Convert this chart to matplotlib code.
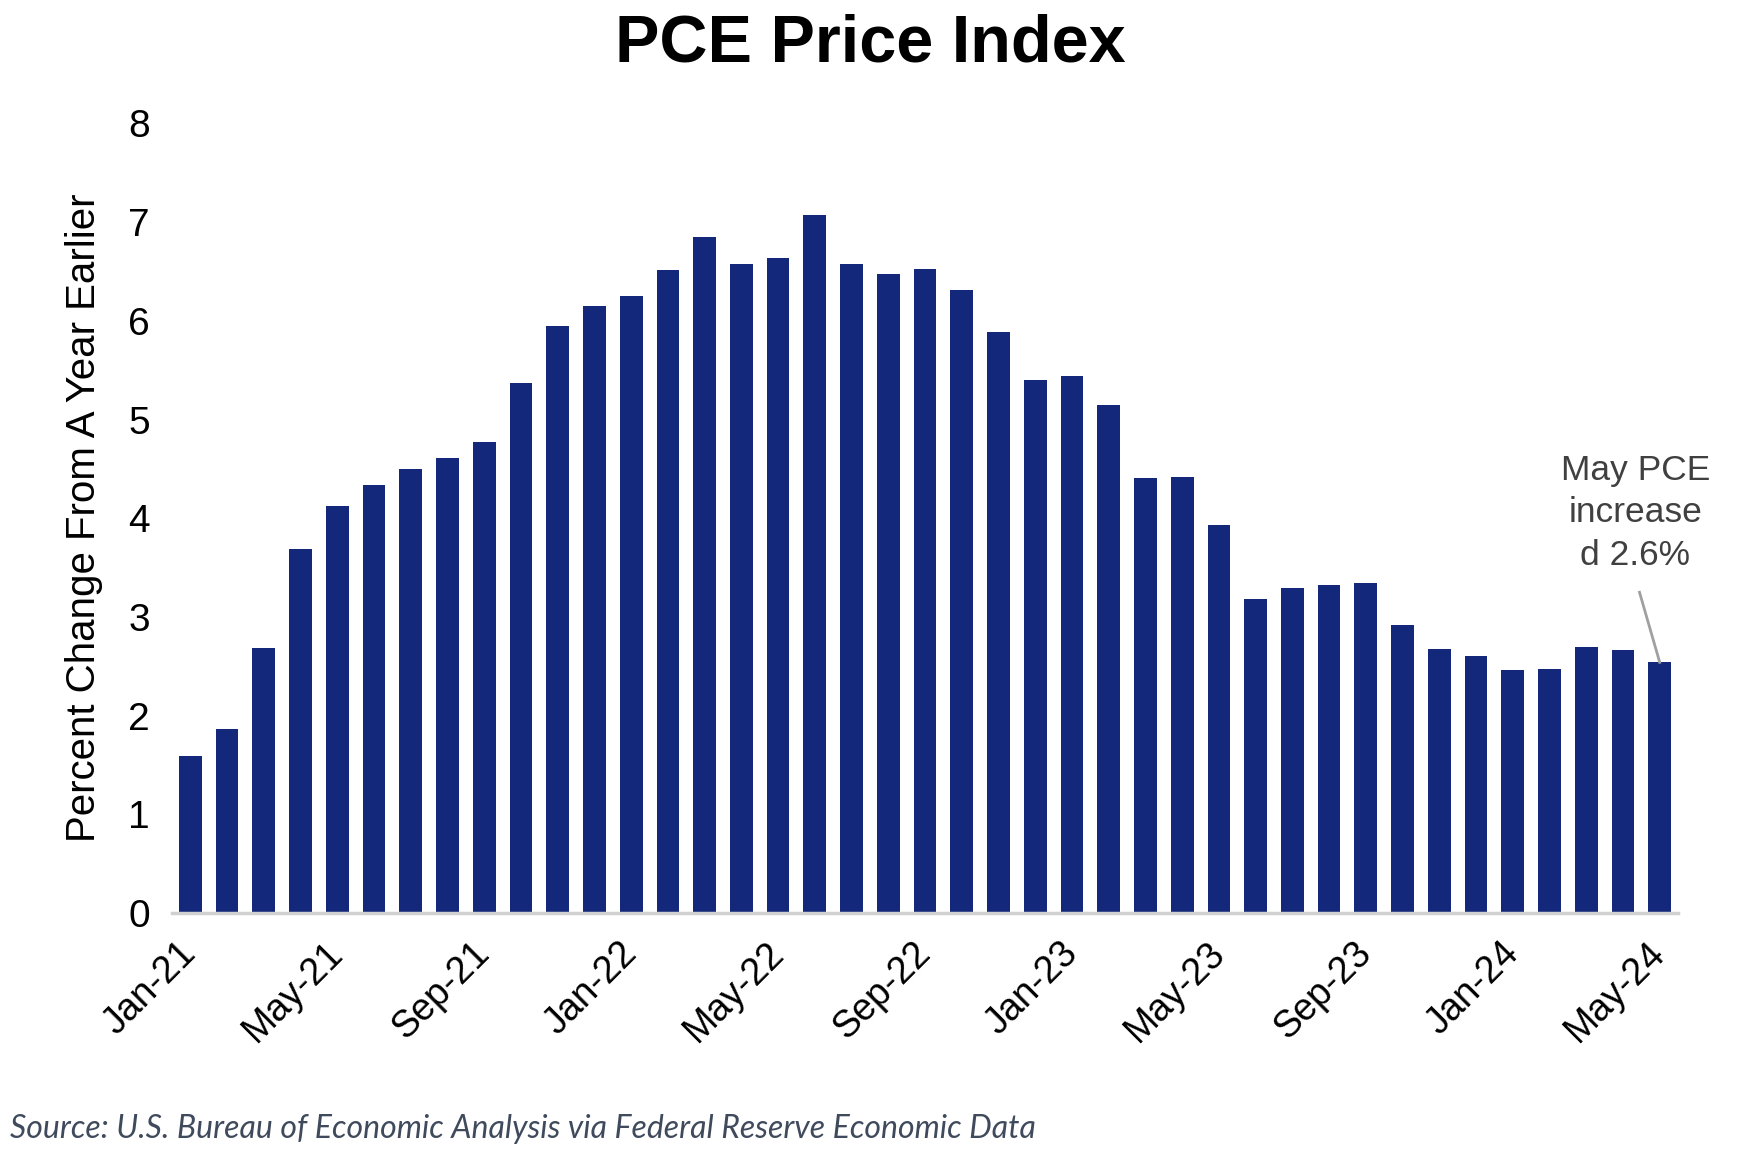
import matplotlib
matplotlib.use("Agg")
import matplotlib.pyplot as plt
import matplotlib.transforms as mtransforms
import numpy as np

plt.rcParams['font.family'] = ['Liberation Sans', 'DejaVu Sans']

months = ["Jan-21", "Feb-21", "Mar-21", "Apr-21", "May-21", "Jun-21", "Jul-21", "Aug-21",
          "Sep-21", "Oct-21", "Nov-21", "Dec-21", "Jan-22", "Feb-22", "Mar-22", "Apr-22",
          "May-22", "Jun-22", "Jul-22", "Aug-22", "Sep-22", "Oct-22", "Nov-22", "Dec-22",
          "Jan-23", "Feb-23", "Mar-23", "Apr-23", "May-23", "Jun-23", "Jul-23", "Aug-23",
          "Sep-23", "Oct-23", "Nov-23", "Dec-23", "Jan-24", "Feb-24", "Mar-24", "Apr-24",
          "May-24"]
pce = [1.59, 1.86, 2.69, 3.69, 4.12, 4.34, 4.50, 4.61, 4.77, 5.37, 5.95, 6.15,
       6.25, 6.51, 6.85, 6.58, 6.64, 7.07, 6.58, 6.47, 6.52, 6.31, 5.89, 5.40,
       5.44, 5.15, 4.41, 4.42, 3.93, 3.18, 3.29, 3.32, 3.34, 2.92, 2.68, 2.60,
       2.46, 2.47, 2.70, 2.66, 2.54]
yticks = [0, 1, 2, 3, 4, 5, 6, 7, 8]

fig = plt.figure(figsize=(17.48, 11.64), dpi=100)
ax = fig.add_axes([0.0984, 0.2156, 0.8616, 0.6784])

x = np.arange(len(months))
ax.bar(x, pce, width=0.62, color="#13287A")

ax.set_xlim(-0.5, len(months) - 0.5)
ax.set_ylim(0, 8)
ax.set_yticks(yticks)
ax.set_yticklabels([str(t) for t in yticks], fontsize=28)
ax.set_xticks(x[::4])
ax.set_xticklabels(months[::4], fontsize=27, rotation=45, ha="right", rotation_mode="anchor")
ax.tick_params(axis="y", length=0, pad=16)
ax.tick_params(axis="x", length=0, pad=16)

# nudge the slanted month labels so they end at their bar
shift = mtransforms.ScaledTranslation(-9 / 72, 0, fig.dpi_scale_trans)
for lab in ax.get_xticklabels():
    lab.set_transform(lab.get_transform() + shift)

for s in ["top", "right", "left"]:
    ax.spines[s].set_visible(False)
ax.spines["bottom"].set_color("#d0d0d0")
ax.spines["bottom"].set_linewidth(2.5)

ax.set_ylabel("Percent Change From A Year Earlier", fontsize=29, labelpad=18)

fig.text(0.498, 0.962, "PCE Price Index", fontsize=48, fontweight="bold",
         ha="center", va="center")

# annotation for last bar
ax.text(x[-1] - 0.66, 3.46, "May PCE\nincrease\nd 2.6%", fontsize=25.5, color="#404040",
        ha="center", va="bottom", linespacing=1.35)
ax.plot([x[-1] - 0.55, x[-1]], [3.25, pce[-1]], color="#a0a0a0", lw=2)

fig.text(0.006, 0.017, "Source: U.S. Bureau of Economic Analysis via Federal Reserve Economic Data",
         fontsize=23, style="italic", color="#3f4a5c", family=["Lato", "DejaVu Sans"],
         ha="left", va="bottom")

fig.savefig("out.png", dpi=100, facecolor="white")
